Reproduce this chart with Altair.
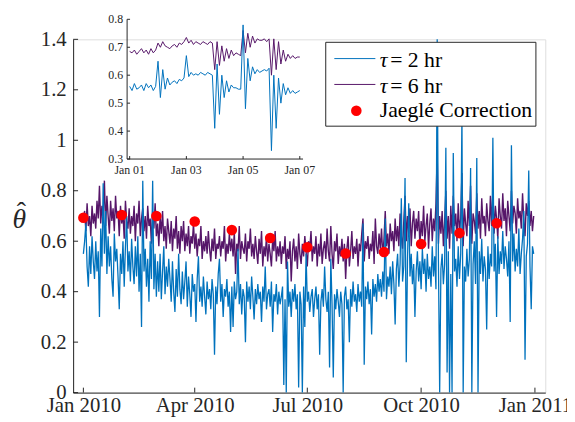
import altair as alt
import pandas as pd

# ---------------- data ----------------
# daily values, 2010-01-01 .. 2010-12-31
blue_vals = [
    0.55, 0.60, 0.67, 0.50, 0.42, 0.58, 0.47, 0.62, 0.52, 0.45,
    0.60, 0.48, 0.56, 0.30, 0.65, 0.50, 0.83, 0.55, 0.72, 0.47,
    0.62, 0.50, 0.58, 0.45, 0.38, 0.63, 0.52, 0.57, 0.46, 0.33,
    0.55, 0.47, 0.60, 0.42, 0.58, 0.70, 0.48, 0.56, 0.44, 0.61,
    0.50, 0.43, 0.58, 0.46, 0.62, 0.40, 0.55, 0.26, 0.84, 0.48,
    0.57, 0.42, 0.53, 0.36, 0.60, 0.45, 0.84, 0.41, 0.55, 0.38,
    0.52, 0.40, 0.55, 0.37, 0.48, 0.58, 0.39, 0.50, 0.42, 0.53,
    0.45, 0.36, 0.52, 0.40, 0.32, 0.49, 0.38, 0.55, 0.41, 0.35,
    0.48, 0.37, 0.44, 0.52, 0.34, 0.46, 0.39, 0.30, 0.47, 0.40,
    0.43, 0.28, 0.45, 0.54, 0.36, 0.42, 0.34, 0.46, 0.38, 0.31,
    0.44, 0.37, 0.41, 0.33, 0.45, 0.39, 0.15, 0.42, 0.35, 0.47,
    0.53, 0.36, 0.43, 0.30, 0.41, 0.38, 0.45, 0.34, 0.40, 0.24,
    0.42, 0.26, 0.44, 0.37, 0.40, 0.57, 0.35, 0.43, 0.31, 0.41,
    0.38, 0.20, 0.44, 0.36, 0.42, 0.33, 0.46, 0.38, 0.29, 0.41,
    0.35, 0.43, 0.37, 0.40, 0.28, 0.42, 0.36, 0.50, 0.33, 0.39,
    0.41, 0.34, 0.44, 0.24, 0.39, 0.36, 0.43, 0.31, 0.40, 0.35,
    0.38, 0.42, 0.03, 0.37, 0.00, 0.52, 0.34, 0.40, 0.30, 0.41,
    0.36, 0.43, 0.33, 0.39, 0.02, 0.40, 0.35, 0.00, 0.42, 0.26,
    0.55, 0.36, 0.40, 0.32, 0.38, 0.41, 0.30, 0.37, 0.42, 0.33,
    0.39, 0.15, 0.36, 0.41, 0.34, 0.50, 0.37, 0.32, 0.40, 0.10,
    0.53, 0.35, 0.06, 0.39, 0.33, 0.41, 0.36, 0.30, 0.40, 0.35,
    0.00, 0.38, 0.42, 0.33, 0.37, 0.20, 0.41, 0.34, 0.44, 0.36,
    0.39, 0.32, 0.43, 0.36, 0.40, 0.34, 0.67, 0.11, 0.42, 0.37,
    0.44, 0.35, 0.41, 0.23, 0.45, 0.38, 0.43, 0.36, 0.47, 0.40,
    0.45, 0.38, 0.48, 0.40, 0.69, 0.37, 0.46, 0.42, 0.50, 0.39,
    0.52, 0.43, 0.27, 0.49, 0.55, 0.42, 0.51, 0.77, 0.44, 0.50,
    0.85, 0.12, 0.53, 0.75, 0.46, 0.55, 0.43, 0.51, 0.30, 0.48,
    0.56, 0.44, 0.52, 0.41, 0.57, 0.47, 0.53, 0.40, 0.55, 0.45,
    0.50, 0.42, 0.58, 0.46, 0.54, 0.41, 1.40, 0.52, 0.00, 0.49,
    0.55, 0.43, 0.51, 0.97, 0.08, 0.56, 0.00, 0.47, 0.00, 0.95,
    0.48, 0.53, 0.42, 0.58, 0.45, 0.55, 1.10, 0.00, 0.50, 0.44,
    0.57, 0.46, 0.53, 0.89, 0.00, 0.51, 0.60, 0.43, 0.93, 0.00,
    0.56, 0.47, 0.61, 0.44, 0.54, 0.49, 0.25, 0.58, 0.45, 0.55,
    0.50, 1.01, 0.48, 0.59, 0.30, 0.62, 0.47, 0.56, 0.51, 0.64,
    0.49, 0.58, 0.53, 0.46, 0.60, 0.28, 0.98, 0.52, 0.63, 0.48,
    0.57, 0.50, 0.65, 0.47, 0.55, 0.61, 0.72, 0.13, 0.54, 0.59,
    0.88, 0.50, 0.33, 0.58, 0.55,
]
purple_vals = [
    0.68, 0.72, 0.64, 0.75, 0.66, 0.70, 0.62, 0.74, 0.67, 0.71,
    0.65, 0.76, 0.69, 0.82, 0.67, 0.74, 0.70, 0.84, 0.66, 0.78,
    0.70, 0.63, 0.76, 0.68, 0.73, 0.64, 0.78, 0.69, 0.72, 0.62,
    0.74, 0.67, 0.71, 0.61, 0.76, 0.68, 0.65, 0.73, 0.63, 0.70,
    0.66, 0.74, 0.60, 0.71, 0.67, 0.76, 0.62, 0.69, 0.73, 0.64,
    0.70, 0.61, 0.74, 0.66, 0.69, 0.59, 0.72, 0.65, 0.75, 0.62,
    0.67, 0.58, 0.70, 0.63, 0.72, 0.60, 0.66, 0.57, 0.69, 0.64,
    0.59, 0.68, 0.56, 0.65, 0.61, 0.70, 0.57, 0.64, 0.55, 0.66,
    0.60, 0.68, 0.56, 0.63, 0.58, 0.66, 0.55, 0.62, 0.59, 0.67,
    0.57, 0.63, 0.54, 0.61, 0.58, 0.66, 0.53, 0.60, 0.56, 0.62,
    0.55, 0.64, 0.57, 0.52, 0.61, 0.56, 0.65, 0.53, 0.59, 0.57,
    0.62, 0.54, 0.60, 0.57, 0.66, 0.52, 0.59, 0.55, 0.63, 0.56,
    0.61, 0.54, 0.64, 0.47, 0.59, 0.56, 0.66, 0.53, 0.60, 0.57,
    0.55, 0.63, 0.52, 0.60, 0.57, 0.65, 0.54, 0.59, 0.53, 0.62,
    0.56, 0.51, 0.61, 0.55, 0.64, 0.50, 0.58, 0.54, 0.62, 0.52,
    0.59, 0.55, 0.50, 0.61, 0.56, 0.64, 0.52, 0.58, 0.54, 0.60,
    0.51, 0.58, 0.55, 0.62, 0.49, 0.57, 0.53, 0.60, 0.44, 0.56,
    0.61, 0.52, 0.58, 0.49, 0.63, 0.55, 0.51, 0.59, 0.54, 0.62,
    0.56, 0.50, 0.60, 0.57, 0.64, 0.52, 0.58, 0.55, 0.62, 0.50,
    0.59, 0.54, 0.63, 0.51, 0.57, 0.60, 0.53, 0.65, 0.56, 0.52,
    0.66, 0.55, 0.49, 0.60, 0.56, 0.63, 0.51, 0.58, 0.54, 0.61,
    0.52, 0.59, 0.45, 0.57, 0.62, 0.50, 0.56, 0.64, 0.53, 0.58,
    0.55, 0.61, 0.50, 0.59, 0.56, 0.63, 0.69, 0.52, 0.60, 0.57,
    0.62, 0.53, 0.59, 0.56, 0.64, 0.51, 0.69, 0.58, 0.55, 0.63,
    0.57, 0.65, 0.54, 0.61, 0.72, 0.58, 0.63, 0.55, 0.67, 0.60,
    0.64, 0.56, 0.69, 0.60, 0.66, 0.58, 0.71, 0.62, 0.57, 0.68,
    0.78, 0.60, 0.70, 0.63, 0.73, 0.58, 0.67, 0.72, 0.61, 0.69,
    0.64, 0.72, 0.58, 0.68, 0.62, 0.74, 0.60, 0.66, 0.71, 0.57,
    0.67, 0.73, 0.60, 0.69, 0.64, 0.75, 0.95, 0.59, 0.70, 0.63,
    0.72, 0.58, 0.68, 0.80, 0.61, 0.70, 0.57, 0.74, 0.63, 0.78,
    0.66, 0.71, 0.60, 0.75, 0.64, 0.69, 0.87, 0.58, 0.73, 0.67,
    0.62, 0.76, 0.66, 0.82, 0.59, 0.71, 0.68, 0.63, 0.79, 0.65,
    0.72, 0.61, 0.77, 0.67, 0.70, 0.62, 0.75, 0.68, 0.64, 0.78,
    0.66, 0.80, 0.63, 0.74, 0.69, 0.61, 0.77, 0.70, 0.65, 0.79,
    0.68, 0.73, 0.62, 0.76, 0.70, 0.64, 0.80, 0.67, 0.74, 0.71,
    0.63, 0.77, 0.69, 0.72, 0.65, 0.79, 0.68, 0.62, 0.75, 0.70,
    0.76, 0.66, 0.72, 0.64, 0.70,
]
jaegle_dates = ["2010-01-01", "2010-02-01", "2010-03-01", "2010-04-01",
                "2010-05-01", "2010-06-01", "2010-07-01", "2010-08-01",
                "2010-09-01", "2010-10-01", "2010-11-01", "2010-12-01"]
jaegle_vals = [0.693, 0.704, 0.700, 0.678, 0.644, 0.613,
               0.576, 0.551, 0.557, 0.589, 0.632, 0.671]

# inset: 2-hourly values, 2010-01-01 00:00 .. 2010-01-07 00:00
inset_purple = [
    0.685, 0.680, 0.690, 0.675, 0.685, 0.695, 0.680, 0.690, 0.675, 0.695, 0.680, 0.690,
    0.715, 0.700, 0.720, 0.705, 0.700, 0.695, 0.705, 0.710, 0.700, 0.715, 0.710, 0.720,
    0.735, 0.715, 0.725, 0.710, 0.720, 0.715, 0.710, 0.720, 0.715, 0.710, 0.720, 0.715,
    0.620, 0.720, 0.635, 0.705, 0.650, 0.695, 0.660, 0.690, 0.670, 0.680, 0.675, 0.670,
    0.760, 0.680, 0.750, 0.700, 0.740, 0.715, 0.730, 0.725, 0.725, 0.730, 0.720, 0.730,
    0.600, 0.730, 0.620, 0.720, 0.640, 0.690, 0.650, 0.675, 0.660, 0.670, 0.660, 0.665, 0.665,
]
inset_blue = [
    0.560, 0.545, 0.570, 0.550, 0.555, 0.565, 0.545, 0.570, 0.555, 0.565, 0.545, 0.560,
    0.650, 0.520, 0.620, 0.550, 0.590, 0.565, 0.575, 0.580, 0.570, 0.585, 0.580, 0.590,
    0.670, 0.595, 0.610, 0.600, 0.605, 0.600, 0.610, 0.605, 0.600, 0.610, 0.605, 0.600,
    0.410, 0.640, 0.460, 0.600, 0.520, 0.580, 0.540, 0.565, 0.555, 0.555, 0.550, 0.550,
    0.780, 0.480, 0.660, 0.580, 0.630, 0.605, 0.620, 0.610, 0.615, 0.620, 0.615, 0.625,
    0.330, 0.600, 0.410, 0.590, 0.500, 0.570, 0.530, 0.555, 0.535, 0.545, 0.535, 0.540, 0.545,
]

y_ticks = [0, 0.2, 0.4, 0.6, 0.8, 1.0, 1.2, 1.4]
x_tick_dates = ["2010-01-01", "2010-04-01", "2010-07-01", "2010-10-01", "2011-01-01"]
inset_y_ticks = [0.3, 0.4, 0.5, 0.6, 0.7, 0.8]
inset_y_labels = ["0.3", "0.4", "0.5", "0.6", "0.7", "0.8"]
inset_x_dates = ["2010-01-01", "2010-01-03", "2010-01-05", "2010-01-07"]
inset_x_labels = ["Jan 01", "Jan 03", "Jan 05", "Jan 07"]

# ---------------- styling ----------------
BLUE = "#0072BD"
PURPLE = "#561669"
RED = "#FF0000"
AX = "#262626"
SERIF = "Liberation Serif"
W, H = 478.5, 358

main_df = pd.DataFrame({
    "date": pd.date_range("2010-01-01", periods=len(blue_vals), freq="D").strftime("%Y-%m-%dT%H:%M:%S"),
    "blue": blue_vals,
    "purple": purple_vals,
})
inset_df = pd.DataFrame({
    "date": pd.date_range("2010-01-01", periods=len(inset_blue), freq="2h").strftime("%Y-%m-%dT%H:%M:%S"),
    "blue": inset_blue,
    "purple": inset_purple,
})
dots_df = pd.DataFrame({"date": [d + "T00:00:00" for d in jaegle_dates], "v": jaegle_vals})
ytick_df = pd.DataFrame({"v": y_ticks})
xtick_df = pd.DataFrame({"date": [d + "T00:00:00" for d in x_tick_dates]})
iyt_df = pd.DataFrame({"v": inset_y_ticks, "lab": inset_y_labels})
ixt_df = pd.DataFrame({"date": [d + "T00:00:00" for d in inset_x_dates], "lab": inset_x_labels})
one = pd.DataFrame({"a": [0]})

xs = alt.Scale(domain=[alt.DateTime(year=2009, month=12, date=23, hours=17),
                       alt.DateTime(year=2011, month=1, date=9, hours=9)], nice=False)
ys = alt.Scale(domain=[0, 1.4], nice=False, zero=False)

x_axis = alt.Axis(values=[alt.DateTime(year=int(d[:4]), month=int(d[5:7]), date=1) for d in x_tick_dates],
                  format="%b %Y", labelFont=SERIF, labelFontSize=21, labelColor=AX,
                  ticks=False, tickSize=0, labelPadding=2, domainColor=AX, domainWidth=1,
                  grid=False, title=None, labelFlush=False, labelOverlap=False)
y_axis = alt.Axis(values=y_ticks, format=".1~f", labelFont=SERIF, labelFontSize=21, labelColor=AX,
                  ticks=False, tickSize=0, labelPadding=7, domainColor=AX, domainWidth=1,
                  grid=False, title=None, labelOverlap=False)

X = alt.X("date:T", scale=xs, axis=x_axis)


def Y(field):
    return alt.Y(field, scale=ys, axis=y_axis)


purple_line = alt.Chart(main_df).mark_line(color=PURPLE, strokeWidth=1.4).encode(
    x=X, y=Y("purple:Q"))
blue_line = alt.Chart(main_df).mark_line(color=BLUE, strokeWidth=1.3).encode(
    x=X, y=Y("blue:Q"))
dots = alt.Chart(dots_df).mark_circle(color=RED, size=115, opacity=1).encode(
    x=X, y=Y("v:Q"))
ytick = alt.Chart(ytick_df).mark_rule(color=AX, strokeWidth=1).encode(
    y=Y("v:Q"), x=alt.value(0), x2=alt.value(5))
xtick = alt.Chart(xtick_df).mark_rule(color=AX, strokeWidth=1).encode(
    x=X, y=alt.value(H), y2=alt.value(H - 5))

# legend (manual, MATLAB style)
leg_box = alt.Chart(one).mark_rect(fill="white", stroke=AX, strokeWidth=1).encode(
    x=alt.value(256), x2=alt.value(469), y=alt.value(3), y2=alt.value(88))
leg_l1 = alt.Chart(one).mark_rule(color=BLUE, strokeWidth=1).encode(
    x=alt.value(264.7), x2=alt.value(306.3), y=alt.value(19.5))
leg_l2 = alt.Chart(one).mark_rule(color=PURPLE, strokeWidth=1).encode(
    x=alt.value(264.7), x2=alt.value(306.3), y=alt.value(45.7))
leg_dot = alt.Chart(one).mark_circle(color=RED, size=115, opacity=1).encode(
    x=alt.value(287), y=alt.value(72.3))
tau_kw = dict(align="left", baseline="alphabetic", font=SERIF, fontSize=22, color="black")
leg_t1a = alt.Chart(one).mark_text(fontStyle="italic", **tau_kw).encode(
    x=alt.value(310.7), y=alt.value(28), text=alt.value("τ"))
leg_t1b = alt.Chart(one).mark_text(**tau_kw).encode(
    x=alt.value(321.3), y=alt.value(28), text=alt.value("= 2 hr"))
leg_t2a = alt.Chart(one).mark_text(fontStyle="italic", **tau_kw).encode(
    x=alt.value(310.7), y=alt.value(54.7), text=alt.value("τ"))
leg_t2b = alt.Chart(one).mark_text(**tau_kw).encode(
    x=alt.value(321.3), y=alt.value(54.7), text=alt.value("= 6 hr"))
leg_t3 = alt.Chart(one).mark_text(**tau_kw).encode(
    x=alt.value(310.7), y=alt.value(78.5), text=alt.value("Jaeglé Correction"))

# y title: theta with a hat
ytitle = alt.Chart(one).mark_text(font=SERIF, fontStyle="italic", fontSize=28, color=AX,
                                  align="center", baseline="alphabetic").encode(
    x=alt.value(-54.5), y=alt.value(191), text=alt.value("θ"))
yhat = alt.Chart(one).mark_text(font=SERIF, fontSize=28, color=AX,
                                align="center", baseline="alphabetic").encode(
    x=alt.value(-52.5), y=alt.value(184), text=alt.value("ˆ"))

main = alt.layer(purple_line, blue_line, ytick, xtick, dots,
                 leg_box, leg_l1, leg_l2, leg_dot, leg_t1a, leg_t1b, leg_t2a, leg_t2b, leg_t3,
                 ytitle, yhat)

# ---------------- inset ----------------
IX0, IX1 = 54.7, 233.0
IY0, IY1 = 121.3, -20.3
ixs = alt.Scale(domain=[alt.DateTime(year=2009, month=12, date=31, hours=21, minutes=50),
                        alt.DateTime(year=2010, month=1, date=7, hours=2, minutes=45)],
                range=[IX0, IX1], nice=False)
iys = alt.Scale(domain=[0.3, 0.8], range=[IY0, IY1], nice=False, zero=False)
IX = alt.X("date:T", scale=ixs, axis=None)

in_purple = alt.Chart(inset_df).mark_line(color=PURPLE, strokeWidth=1).encode(
    x=IX, y=alt.Y("purple:Q", scale=iys, axis=None))
in_blue = alt.Chart(inset_df).mark_line(color=BLUE, strokeWidth=1).encode(
    x=IX, y=alt.Y("blue:Q", scale=iys, axis=None))
in_vline = alt.Chart(one).mark_rule(color=AX, strokeWidth=1).encode(
    x=alt.value(IX0), y=alt.value(IY1), y2=alt.value(IY0))
in_hline = alt.Chart(one).mark_rule(color=AX, strokeWidth=1).encode(
    y=alt.value(IY0), x=alt.value(IX0), x2=alt.value(IX1))
in_yt = alt.Chart(iyt_df).mark_rule(color=AX, strokeWidth=1).encode(
    y=alt.Y("v:Q", scale=iys, axis=None), x=alt.value(IX0), x2=alt.value(IX0 + 3))
in_xt = alt.Chart(ixt_df).mark_rule(color=AX, strokeWidth=1).encode(
    x=IX, y=alt.value(IY0), y2=alt.value(IY0 - 3))
in_yl = alt.Chart(iyt_df).mark_text(align="right", baseline="middle", font=SERIF,
                                    fontSize=12, color=AX).encode(
    y=alt.Y("v:Q", scale=iys, axis=None), x=alt.value(IX0 - 4), text="lab:N")
in_xl = alt.Chart(ixt_df).mark_text(align="center", baseline="top", font=SERIF,
                                    fontSize=12, color=AX).encode(
    x=IX, y=alt.value(IY0 + 6), text="lab:N")

inset = alt.layer(in_purple, in_blue, in_vline, in_hline, in_yt, in_xt, in_yl, in_xl)

chart = alt.layer(main, inset).resolve_scale(x="independent", y="independent").properties(
    width=W, height=H,
    autosize=alt.AutoSizeParams(type="none"),
    padding={"left": 66, "top": 29, "right": 22, "bottom": 25},
).configure_view(stroke=None).configure(background="white")

chart.save("out.html", embed_options={"renderer": "svg", "actions": False})
